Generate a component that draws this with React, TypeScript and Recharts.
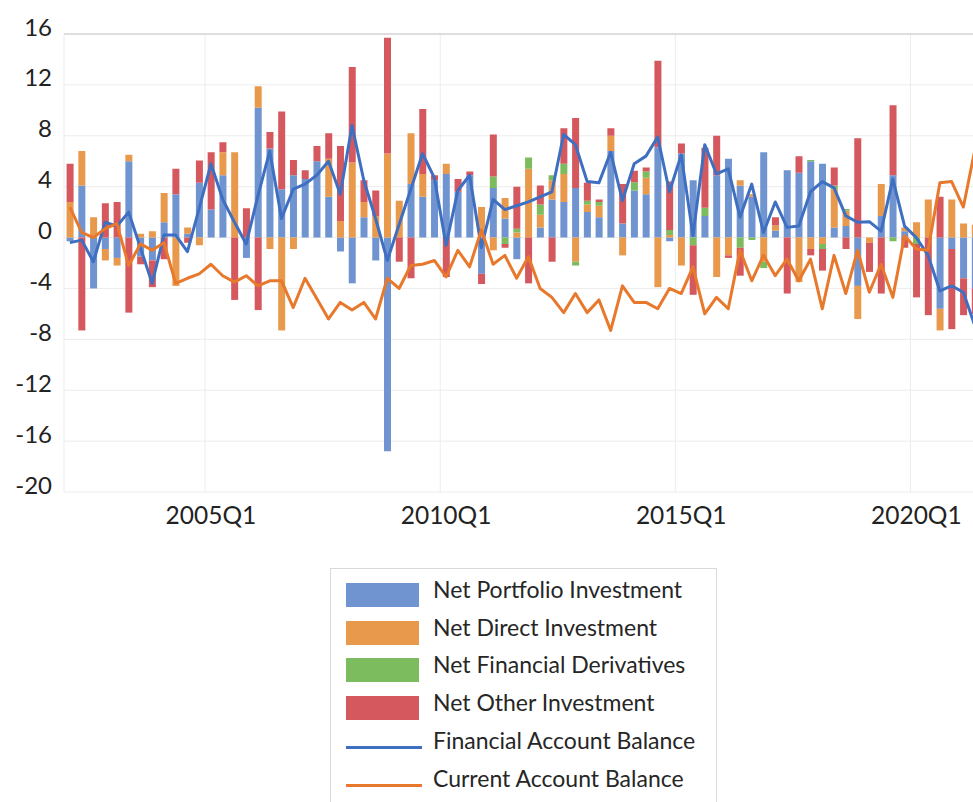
import { ComposedChart, Bar, Line, XAxis, YAxis, CartesianGrid, ReferenceLine } from 'recharts';

// quarters 2002Q1 .. 2021Q2
const quarters: string[] = [];
for (let y = 2002; y <= 2021; y++) {
  for (let q = 1; q <= 4; q++) {
    if (y === 2021 && q > 2) break;
    quarters.push(`${y}Q${q}`);
  }
}

const xTicks = ['2005Q1', '2010Q1', '2015Q1', '2020Q1'];
const yTicks = [-20, -16, -12, -8, -4, 0, 4, 8, 12, 16];

const portfolio = [
  -0.3, 4.1, -4.0, -0.9, -1.6, 6.0, -1.5, -1.8, 1.2, 3.4, 0.3, 4.3, 2.2, 4.9, 0, -1.6,
  10.2, 7.0, 3.8, 4.9, 4.6, 6.0, 3.2, -1.1, -3.6, 1.6, -1.8, -16.8, 0, 4.2, 3.2, 4.5,
  5.0, 3.6, 4.9, -2.85, 3.9, 1.5, -1.7, 0, 0.8, 3.0, 2.8, 3.9, 2.0, 1.6, 6.8, 1.1,
  3.7, 3.4, 7.1, -0.3, 6.6, 4.5, 1.7, 4.9, 6.2, 4.1, 3.2, 6.7, 0.55, 5.3, 5.1, 6.0,
  5.8, 0.8, 0.9, -3.8, 0, 1.7, 4.9, 0.5, 0, 0, -5.6, -0.9, -3.2, -4.0,
];
const direct = [
  2.8, 2.7, 1.6, -0.9, -0.6, 0.5, 0.3, 0.5, 2.3, -3.8, 0.5, -0.6, 0, 1.8, 6.7, 0,
  1.7, -0.9, -7.3, -0.9, 0, 0, 3.0, 1.3, 5.9, 1.2, 1.7, 6.6, 2.9, 4.0, 1.8, 0,
  0.8, 0, 0, 2.4, -1.0, 1.6, 0.4, 5.4, 1.0, 1.5, 2.2, -1.9, 0.6, 0.9, 1.2, -1.4,
  0, 1.3, -3.9, 0.2, -2.2, 0, 0, -3.1, -1.4, 0.4, 0.2, -1.9, 0.4, 0, -3.5, -0.9,
  -0.5, 3.0, 1.2, -2.6, -0.4, 2.5, 0, 0.3, 1.2, 3.0, -1.7, 3.0, 1.1, 1.0,
];
const derivatives = [
  0, 0, 0, 0, 0, 0, 0, 0, 0, 0, 0, 0, 0, 0, 0, 0,
  0, 0, 0, 0, 0, 0, 0, 0, 0, 0, 0, 0, 0, 0, 0, 0,
  0, 0, 0, 0, 0.9, -0.5, 0.3, 0.9, 0.8, 0.4, 0.8, -0.3, 0.3, 0.3, 0, 0,
  0.65, 0.5, 0, 0.4, 0, -0.6, 0.65, 0, 0, -0.8, -0.2, -0.5, 0, 0, 0, 0.1,
  -0.4, 0.3, 0.15, 0, 0, 0, -0.3, 0, -0.5, 0, 0, 0, 0, 0,
];
const other = [
  3.0, -7.3, 0, 2.7, 2.8, -5.9, -0.6, -2.1, -1.7, 2.0, -0.4, 1.75, 4.5, 0.8, -4.9, 2.3,
  -5.7, 1.3, 6.1, 1.2, 0.7, 1.2, 2.0, 5.9, 7.5, 1.7, 2.0, 9.1, -1.9, -3.2, 5.1, 0.4,
  -3.1, 1.0, 0.3, -0.8, 3.3, -0.3, 3.3, -3.6, 1.5, -1.9, 2.8, 5.5, 1.4, 0.2, 0.6, 3.1,
  0.9, 0.3, 6.8, 3.8, 0.8, -3.9, 4.7, 3.1, -0.2, -2.2, 0, 0, 0.65, -4.4, 1.3, -0.5,
  -1.7, 1.4, -0.9, 7.8, -2.3, -4.4, 5.5, -0.8, -4.2, -6.1, 3.2, -6.3, -2.9, -2.0,
];
const financialAccount = [
  -0.4, -0.2, -1.9, 1.2, 0.9, 2.0, -0.8, -3.6, 0.2, 0.2, -1.1, 2.3, 5.8, 3.0, 1.2, -0.5,
  3.3, 6.8, 1.5, 3.8, 4.2, 4.9, 6.0, 3.4, 8.8, 4.5, 1.5, -1.8, 1.0, 3.8, 6.6, 4.7,
  -0.6, 3.7, 4.9, -0.8, 3.0, 2.2, 2.5, 2.8, 3.2, 3.6, 8.1, 7.3, 4.4, 4.3, 6.7, 2.9,
  5.8, 6.4, 7.9, 3.6, 6.5, 0.15, 7.3, 5.0, 5.4, 1.6, 4.2, 0.4, 2.8, 0.8, 0.9, 3.6,
  4.4, 3.9, 1.7, 1.2, 1.25, 0.5, 4.6, 0.9, 0, -1.4, -4.2, -3.8, -4.3, -7.0,
];
const currentAccount = [
  2.4, 0.4, 0.0, 0.7, 1.1, -2.2, -0.5, -1.0, -0.4, -3.6, -3.2, -2.85, -2.1, -3.0, -3.5, -3.0,
  -3.8, -3.4, -3.4, -5.5, -3.2, -4.8, -6.4, -5.1, -5.7, -5.1, -6.4, -3.2, -4.0, -2.2, -2.1, -1.8,
  -3.1, -1.0, -2.3, 0.6, -2.1, -1.4, -3.2, -1.5, -4.0, -4.7, -5.9, -4.4, -5.9, -4.9, -7.3, -3.8,
  -5.1, -5.1, -5.6, -4.0, -4.4, -2.3, -6.0, -4.7, -5.6, -1.0, -3.4, -1.4, -3.0, -1.7, -3.4, -1.7,
  -5.6, -1.4, -4.4, -1.0, -4.3, -2.1, -4.7, 0.15, -0.9, -1.0, 4.3, 4.4, 2.4, 7.0,
];

const data = quarters.map((q, i) => ({
  q,
  portfolio: portfolio[i],
  direct: direct[i],
  derivatives: derivatives[i],
  other: other[i],
  fa: financialAccount[i],
  ca: currentAccount[i],
}));

const FONT = 'Lato, "Open Sans", sans-serif';
const colors = {
  portfolio: '#6F94D0',
  direct: '#E8994C',
  derivatives: '#7DBB5F',
  other: '#D4585E',
  fa: '#3F6FC1',
  ca: '#E8792C',
};

const legendItems = [
  { label: 'Net Portfolio Investment', color: colors.portfolio, kind: 'bar' },
  { label: 'Net Direct Investment', color: colors.direct, kind: 'bar' },
  { label: 'Net Financial Derivatives', color: colors.derivatives, kind: 'bar' },
  { label: 'Net Other Investment', color: colors.other, kind: 'bar' },
  { label: 'Financial Account Balance', color: colors.fa, kind: 'line' },
  { label: 'Current Account Balance', color: colors.ca, kind: 'line' },
];

const YTick = ({ x, y, payload }: any) => (
  <text x={x} y={y - 8} textAnchor="end" dominantBaseline="central" fill="#222" fontSize={24} fontFamily={FONT}>
    {payload.value}
  </text>
);

const XTick = ({ x, y, payload }: any) => (
  <text x={x} y={y + 16} textAnchor="middle" dominantBaseline="central" fill="#222" fontSize={24.5} fontFamily={FONT}>
    {payload.value}
  </text>
);

// grid lines sit on the category boundaries before each labelled quarter
const verticalLines = ({ offset }: any) => {
  const band = offset.width / quarters.length;
  return [0, 12, 32, 52, 72].map((k) => offset.left + k * band);
};

export default function App() {
  return (
    <div style={{ position: 'absolute', left: 0, top: 0, width: 973, height: 802, overflow: 'hidden', background: '#fff' }}>
      <ComposedChart
        width={981}
        height={532}
        data={data}
        stackOffset="sign"
        barCategoryGap="22%"
        margin={{ top: 34, right: 0, left: 0, bottom: 0 }}
      >
        <CartesianGrid stroke="#ececec" verticalCoordinatesGenerator={verticalLines} />
        <XAxis
          dataKey="q"
          ticks={xTicks}
          interval={0}
          tick={<XTick />}
          tickLine={false}
          axisLine={false}
          tickMargin={0}
          height={40}
        />
        <YAxis
          type="number"
          domain={[-20, 16]}
          ticks={yTicks}
          allowDataOverflow
          tick={<YTick />}
          tickLine={false}
          axisLine={false}
          tickMargin={6}
          width={64}
        />
        <ReferenceLine y={16} stroke="#c6c6c6" strokeWidth={1.2} />
        <Bar dataKey="portfolio" stackId="a" fill={colors.portfolio} isAnimationActive={false} />
        <Bar dataKey="direct" stackId="a" fill={colors.direct} isAnimationActive={false} />
        <Bar dataKey="derivatives" stackId="a" fill={colors.derivatives} isAnimationActive={false} />
        <Bar dataKey="other" stackId="a" fill={colors.other} isAnimationActive={false} />
        <Line
          type="linear"
          dataKey="fa"
          stroke={colors.fa}
          strokeWidth={3}
          strokeLinejoin="round"
          dot={false}
          isAnimationActive={false}
        />
        <Line
          type="linear"
          dataKey="ca"
          stroke={colors.ca}
          strokeWidth={3}
          strokeLinejoin="round"
          dot={false}
          isAnimationActive={false}
        />
      </ComposedChart>

      <div
        style={{
          position: 'absolute',
          left: 330,
          top: 568,
          width: 385,
          height: 260,
          border: '1px solid #d9d9d9',
          background: '#fff',
          fontFamily: FONT,
          fontSize: 23,
          color: '#262626',
        }}
      >
        {legendItems.map((it, i) => {
          const rowTop = 13 + i * 37.7;
          return (
            <div key={it.label} style={{ position: 'absolute', left: 0, top: rowTop, width: 385, height: 26 }}>
              {it.kind === 'bar' ? (
                <div style={{ position: 'absolute', left: 15, top: 1, width: 73, height: 24, background: it.color }} />
              ) : (
                <div style={{ position: 'absolute', left: 15, top: 13, width: 76, height: 3, background: it.color }} />
              )}
              <div style={{ position: 'absolute', left: 102, top: -6, lineHeight: '26px', whiteSpace: 'nowrap' }}>{it.label}</div>
            </div>
          );
        })}
      </div>
    </div>
  );
}
